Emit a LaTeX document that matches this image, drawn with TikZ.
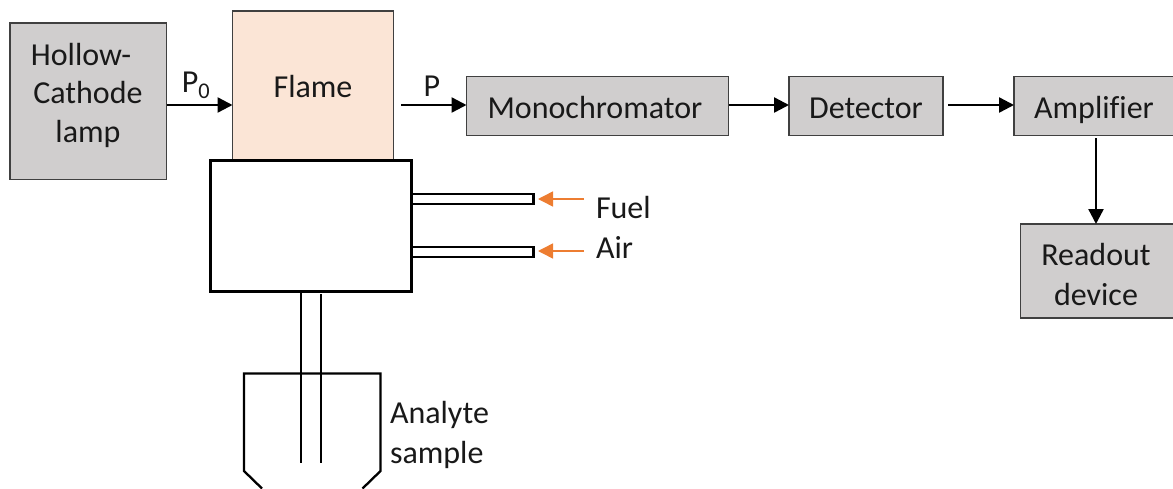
\documentclass[tikz,border=0pt]{standalone}
\usepackage{fontspec}
\setmainfont[Ligatures=NoCommon]{Carlito}
\usetikzlibrary{arrows.meta}
\definecolor{boxgray}{HTML}{D0CECE}
\definecolor{flamefill}{HTML}{FBE5D6}
\definecolor{orangearrow}{HTML}{ED7D31}
\tikzset{
  x=1pt,y=-1pt,
  every node/.style={outer sep=0pt},
  txt/.style={font=\fontsize{32}{38}\selectfont,inner sep=0pt,align=center,text=black!90},
  graybox/.style={draw=black!75,line width=1.2pt,fill=boxgray,inner sep=0pt},
  flamebox/.style={draw=black!75,line width=1.2pt,fill=flamefill,inner sep=0pt},
  flow/.style={draw=black,line width=2.4pt,-{Triangle[length=15pt,width=15pt]}},
  feed/.style={draw=orangearrow,line width=1.5pt,-{Triangle[length=15pt,width=15pt]}},
  blk/.style={draw=black,line width=2.3pt},
  thinblk/.style={draw=black,line width=2.3pt,line cap=butt},
  tube/.style={draw=black,line width=2.4pt,fill=white,inner sep=0pt}
}
\begin{document}
\begin{tikzpicture}
\useasboundingbox (0,0) rectangle (1173,488);
\clip (0,0) rectangle (1173,488);
% boxes
\node[graybox,minimum width=156.5pt,minimum height=156.5pt,anchor=north west] (lamp) at (10,23) {};
\node[flamebox,minimum width=161pt,minimum height=150pt,anchor=north west] (flame) at (232.5,11) {};
\node[blk,fill=white,inner sep=0pt,minimum width=201pt,minimum height=131pt,anchor=north west] (burner) at (210.5,160.5) {};
\node[graybox,minimum width=262pt,minimum height=59pt,anchor=north west] (mono) at (466.5,76.5) {};
\node[graybox,minimum width=154pt,minimum height=59pt,anchor=north west] (det) at (789,76.5) {};
\node[graybox,minimum width=170pt,minimum height=59pt,anchor=north west] (amp) at (1014,76.5) {};
\node[graybox,minimum width=170pt,minimum height=94pt,anchor=north west] (read) at (1020.5,224) {};
% tubes
\node[tube,minimum width=122pt,minimum height=10pt,anchor=north west] (fuel) at (411.5,194) {};
\node[tube,minimum width=122pt,minimum height=10pt,anchor=north west] (air) at (411.5,247) {};
% labels
\node[txt] (t1) at (81,54) {Hollow-};
\node[txt] (t2) at (88,93) {Cathode};
\node[txt] (t3) at (88,134) {lamp};
\node[txt] (t4) at (313,87) {Flame};
\node[txt] (t5) at (595,108) {Monochromator};
\node[txt] (t6) at (866,108) {Detector};
\node[txt] (t7) at (1094,110) {Amplifier};
\node[txt] (t8) at (1096,255) {Readout};
\node[txt] (t9) at (1096,294) {device};
\node[txt,anchor=west] (t10) at (596,208) {Fuel};
\node[txt,anchor=west] (t11) at (596,247) {Air};
\node[txt,anchor=west] (t12) at (390,414.5) {Analyte};
\node[txt,anchor=west] (t13) at (390,454.5) {sample};
\node[txt] (p0) at (196,85) {P\textsubscript{0}};
\node[txt] (p) at (432,86) {P};
% flow arrows
\coordinate (pstart) at (401,105);
\coordinate (detout) at (948,105);
\coordinate (ampout) at (1096,138);
\draw[flow] (lamp.east |- pstart) -- (flame.west |- pstart);
\draw[flow] (pstart) -- (mono.west |- pstart);
\draw[flow] (mono.east |- pstart) -- (det.west |- pstart);
\draw[flow] (detout) -- (amp.west |- detout);
\draw[flow] (ampout) -- (ampout |- read.north);
% orange
\coordinate (fs) at (584,199);
\coordinate (as) at (584,251);
\coordinate (fe) at (538,199);
\coordinate (ae) at (538,251);
\draw[feed] (fs) -- (fe);
\draw[feed] (as) -- (ae);
% vessel
\coordinate (v1) at (244,471);
\coordinate (v2) at (244,373.5);
\coordinate (v3) at (380.5,373.5);
\coordinate (v4) at (380.5,471);
\coordinate (v0) at (262,488.5);
\coordinate (v5) at (362.5,488.5);
\draw[thinblk,line join=miter] (v0) -- (v1) -- (v2) -- (v3) -- (v4) -- (v5);
% capillary
\coordinate (r1) at (301.3,291);
\coordinate (r2) at (301.3,462.5);
\coordinate (r3) at (321,294);
\coordinate (r4) at (321,462.5);
\draw[thinblk] (r1) -- (r2);
\draw[thinblk] (r3) -- (r4);
\end{tikzpicture}
\end{document}
